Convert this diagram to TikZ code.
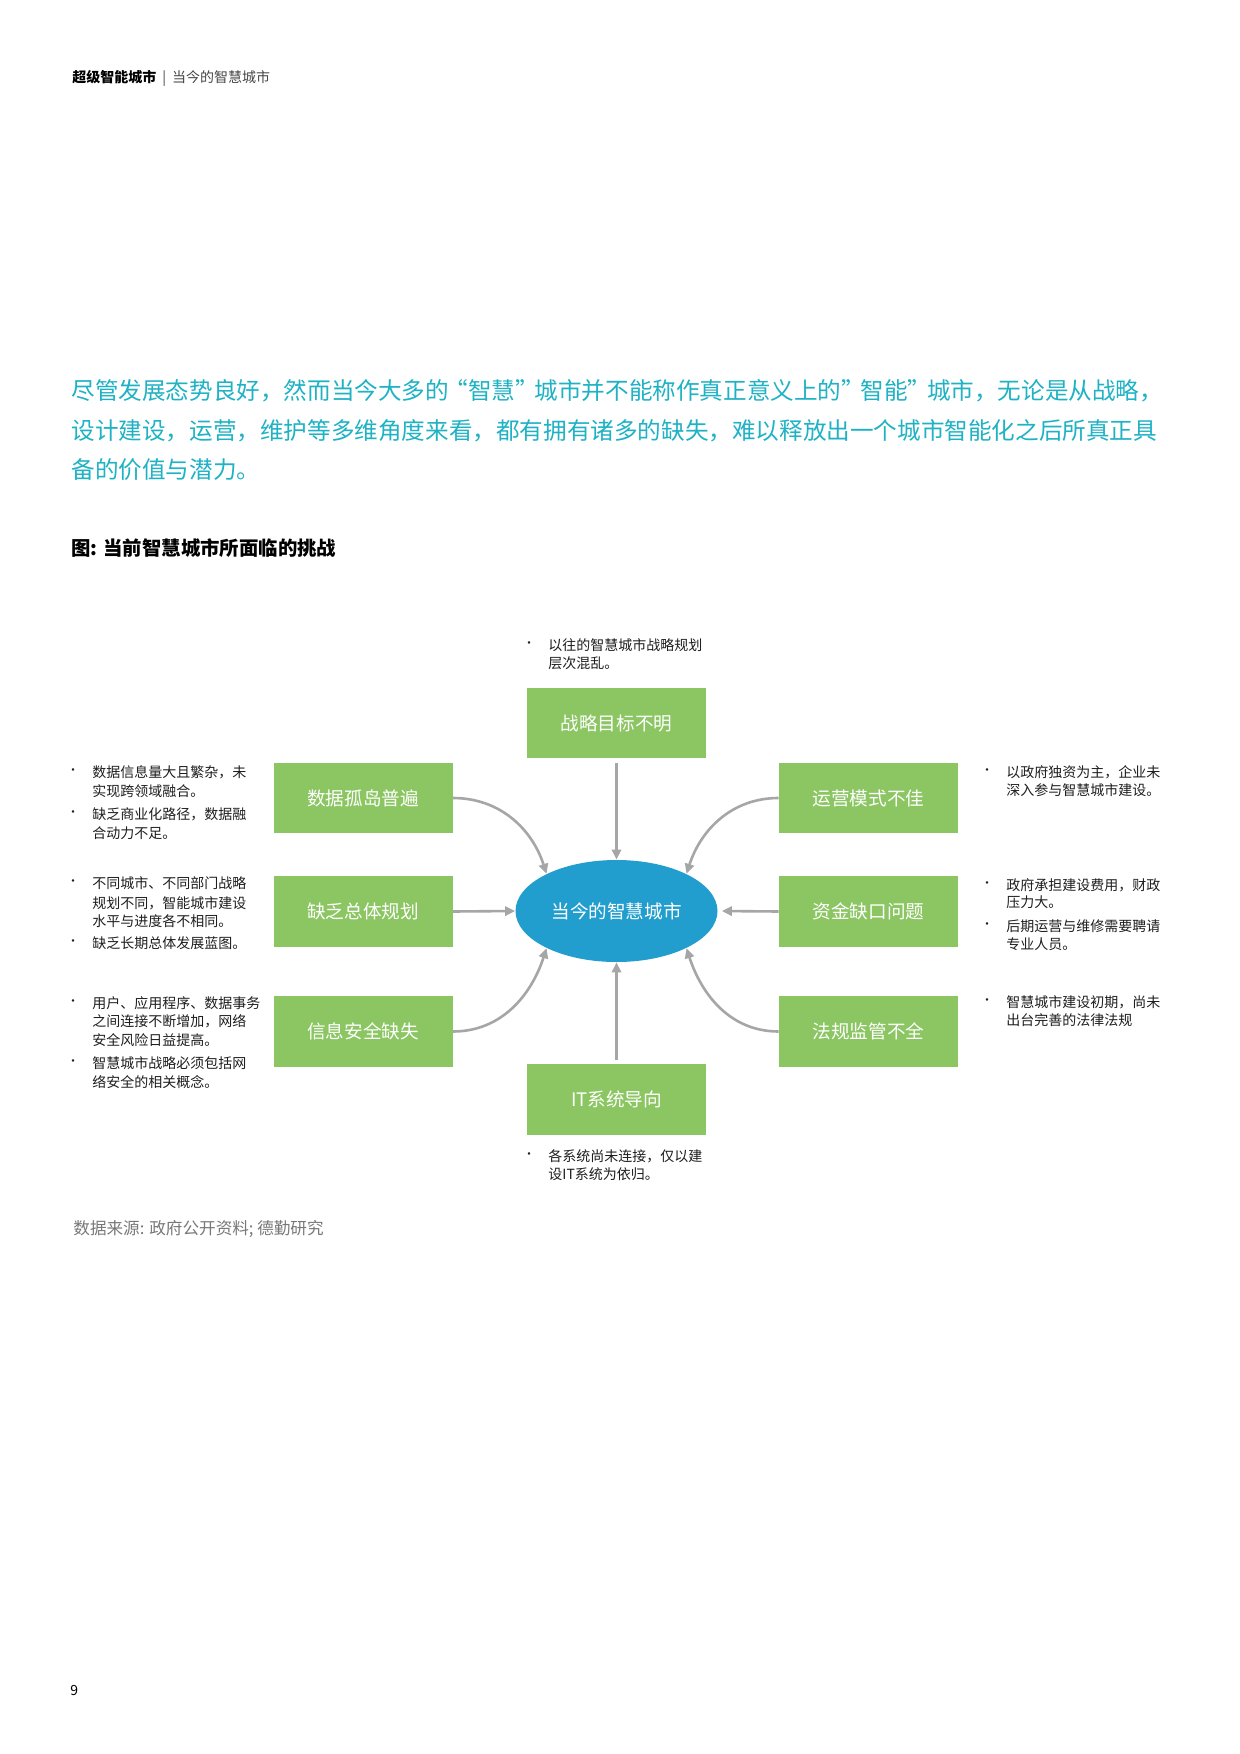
\documentclass[tikz,border=0pt]{standalone}
\usepackage{fontspec}
\setmainfont{Noto Sans CJK SC}
\usetikzlibrary{shapes.geometric,arrows.meta}
\definecolor{boxgreen}{RGB}{139,198,99}
\definecolor{ellblue}{RGB}{33,158,206}
\definecolor{arrgray}{RGB}{166,166,166}
\definecolor{paratxt}{RGB}{30,178,196}
\definecolor{bodytxt}{RGB}{30,30,30}
\definecolor{headgray}{RGB}{70,70,70}
\definecolor{srcgray}{RGB}{120,120,120}
\newcommand\txtline[5]{\node[#1,anchor=base west] (#2) at (#3,#4) {#5};}
\newcommand\bdot[3]{\node[bul] (#1) at (#2,#3) {•};}
\begin{document}
\begin{tikzpicture}[x=0.5pt,y=-0.5pt,
  gbox/.style={fill=boxgreen, minimum width=89.5pt, minimum height=35.3pt, inner sep=0pt, text=white, font=\fontsize{9.3}{11}\selectfont},
  hub/.style={ellipse, fill=ellblue, minimum width=101pt, minimum height=51pt, inner sep=0pt, text=white, font=\fontsize{9.3}{11}\selectfont},
  conn/.style={draw=arrgray, line width=1.3pt, -{Triangle[length=5pt,width=4.6pt]}},
  para/.style={text=paratxt, font=\fontsize{11.8}{14}\selectfont, inner sep=0pt},
  btxt/.style={text=bodytxt, font=\fontsize{7}{8}\selectfont, inner sep=0pt},
  bul/.style={text=bodytxt, font=\fontsize{6}{6}\selectfont, inner sep=0pt},
  head/.style={font=\fontsize{7}{8}\selectfont, inner sep=0pt},
  ttl/.style={font=\fontsize{9.7}{11}\selectfont\bfseries, inner sep=0pt, text=black},
  src/.style={text=srcgray, font=\fontsize{8.3}{9}\selectfont, inner sep=0pt},
 ]
\fill[white] (0,0) rectangle (1240,1754);
\useasboundingbox (0,0) rectangle (1240,1754);

% header
\txtline{head}{hdr}{72}{83}{{\bfseries 超级智能城市}\hspace{3pt}{\color{headgray}|\hspace{3pt}当今的智慧城市}}

% paragraph
\txtline{para}{p1}{71}{400}{尽管发展态势良好，然而当今大多的\hspace{-2.2pt}“智慧”\hspace{-2.2pt}城市并不能称作真正意义上的”\hspace{-2.2pt}智能”\hspace{-2.2pt}城市，无论是从战略，}
\txtline{para}{p2}{71}{440}{设计建设，运营，维护等多维角度来看，都有拥有诸多的缺失，难以释放出一个城市智能化之后所真正具}
\txtline{para}{p3}{71}{479}{备的价值与潜力。}

% figure title
\txtline{ttl}{ftitle}{71}{555}{图: 当前智慧城市所面临的挑战}

% boxes
\node[gbox] (top) at (616.5,723) {战略目标不明};
\node[gbox] (l1) at (363,798) {数据孤岛普遍};
\node[gbox] (r1) at (868.5,798) {运营模式不佳};
\node[gbox] (l2) at (363,911.5) {缺乏总体规划};
\node[gbox] (r2) at (868.5,911.5) {资金缺口问题};
\node[gbox] (l3) at (363,1031.5) {信息安全缺失};
\node[gbox] (r3) at (868.5,1031.5) {法规监管不全};
\node[gbox] (bot) at (616.5,1099.5) {IT系统导向};
\node[hub] (hub) at (616.5,911) {当今的智慧城市};

% connectors
\draw[conn, shorten <=2pt] (top.south) -- (hub.north);
\draw[conn, shorten <=2pt] (bot.north) -- (hub.south);
\draw[conn] (l2.east) -- (hub.west);
\draw[conn, shorten >=2pt] (r2.west) -- (hub.east);
\draw[conn] (l1.east) to[out=0,in=108] (hub.152);
\draw[conn] (l3.east) to[out=0,in=252] (hub.208);
\draw[conn] (r1.west) to[out=180,in=72] (hub.28);
\draw[conn] (r3.west) to[out=180,in=288] (hub.-28);

% top note
\bdot{tb1}{529}{645}
\txtline{btxt}{tt1}{548}{650}{以往的智慧城市战略规划}
\txtline{btxt}{tt2}{548}{668}{层次混乱。}

% left notes
\bdot{lb1}{73}{772}
\txtline{btxt}{la1}{92}{777}{数据信息量大且繁杂，未}
\txtline{btxt}{la2}{92}{796}{实现跨领域融合。}
\bdot{lb2}{73}{814}
\txtline{btxt}{la3}{92}{819}{缺乏商业化路径，数据融}
\txtline{btxt}{la4}{92}{838}{合动力不足。}

\bdot{lb3}{73}{883}
\txtline{btxt}{lb1t}{92}{888}{不同城市、不同部门战略}
\txtline{btxt}{lb2t}{92}{908}{规划不同，智能城市建设}
\txtline{btxt}{lb3t}{92}{926}{水平与进度各不相同。}
\bdot{lb4}{73}{943}
\txtline{btxt}{lb4t}{92}{948}{缺乏长期总体发展蓝图。}

\bdot{lb5}{73}{1003}
\txtline{btxt}{lc1}{92}{1008}{用户、应用程序、数据事务}
\txtline{btxt}{lc2}{92}{1026}{之间连接不断增加，网络}
\txtline{btxt}{lc3}{92}{1045}{安全风险日益提高。}
\bdot{lb6}{73}{1063}
\txtline{btxt}{lc4}{92}{1068}{智慧城市战略必须包括网}
\txtline{btxt}{lc5}{92}{1087}{络安全的相关概念。}

% right notes
\bdot{rb1}{987}{772}
\txtline{btxt}{ra1}{1006}{777}{以政府独资为主，企业未}
\txtline{btxt}{ra2}{1006}{795}{深入参与智慧城市建设。}

\bdot{rb2}{987}{885}
\txtline{btxt}{rb1t}{1006}{890}{政府承担建设费用，财政}
\txtline{btxt}{rb2t}{1006}{907}{压力大。}
\bdot{rb3}{987}{926}
\txtline{btxt}{rb3t}{1006}{931}{后期运营与维修需要聘请}
\txtline{btxt}{rb4t}{1006}{949}{专业人员。}

\bdot{rb4}{987}{1002}
\txtline{btxt}{rc1}{1006}{1007}{智慧城市建设初期，尚未}
\txtline{btxt}{rc2}{1006}{1025}{出台完善的法律法规}

% bottom note
\bdot{bb1}{529}{1156}
\txtline{btxt}{bt1}{548}{1161}{各系统尚未连接，仅以建}
\txtline{btxt}{bt2}{548}{1179}{设IT系统为依归。}

% source and page number
\txtline{src}{source}{73}{1234}{数据来源: 政府公开资料; 德勤研究}
\txtline{head}{pnum}{70}{1695}{9}
\end{tikzpicture}
\end{document}
